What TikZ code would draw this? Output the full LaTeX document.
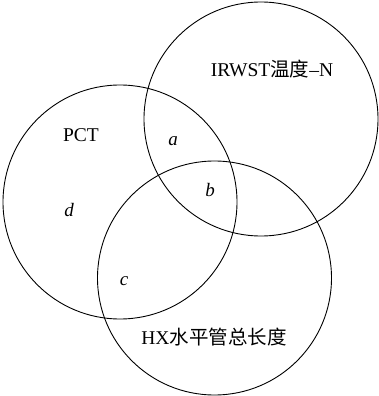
\documentclass[tikz,border=0pt]{standalone}
\usepackage{fontspec}
\setmainfont{Liberation Serif}
\newfontfamily\cjk{Noto Sans CJK SC}
\begin{document}
\begin{tikzpicture}[x=1pt,y=-1pt,
  ring/.style={draw, line width=0.9pt},
  lbl/.style={font=\fontsize{19.5}{22}\selectfont, inner sep=0pt},
  var/.style={font=\fontsize{19}{22}\selectfont\itshape, inner sep=0pt}]
\useasboundingbox (0,0) rectangle (378,396);
\draw[ring] (261,119) circle[radius=117];
\draw[ring] (120,202) circle[radius=117];
\draw[ring] (214.5,278) circle[radius=117];
\node[lbl] (irwst) at (272,69) {IRWST{\cjk 温度}–N};
\node[lbl] (pct) at (81,135) {PCT};
\node[lbl] (hx) at (214,337) {HX{\cjk 水平管总长度}};
\node[var] (a) at (173,141) {a};
\node[var] (b) at (210,190) {b};
\node[var] (c) at (124,281) {c};
\node[var] (d) at (69,210) {d};
\end{tikzpicture}
\end{document}
